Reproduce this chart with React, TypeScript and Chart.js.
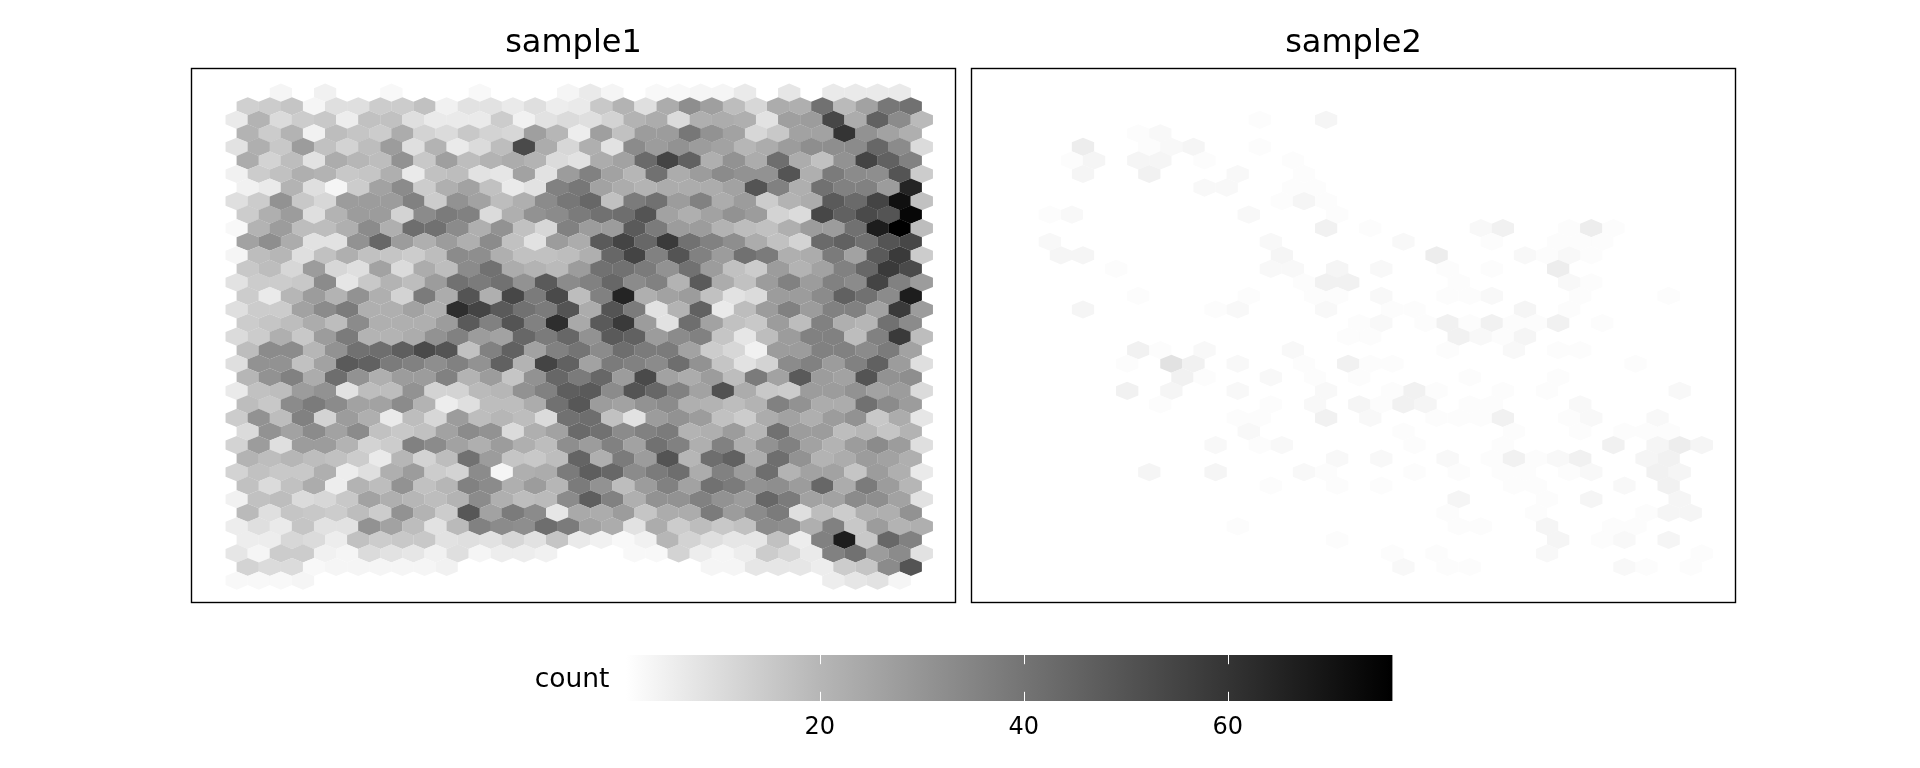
import React, { useEffect, useRef } from "react";
import { Chart, registerables, PointElement, ScatterController } from "chart.js";

const panelTitles = ["sample1", "sample2"];
const legendTitle = ["count"];
const legendTicks = [20, 40, 60];
const legendRange = [1, 76.15];

// counts per hex cell, one list per hex row from the top; 0 = no cell drawn
const sample1Rows: number[][] = [
  [0,0,3,0,4,0,0,2,0,0,0,2,0,0,0,3,6,3,0,2,2,3,3,6,0,7,0,6,6,6,6,0],
  [13,14,16,3,9,9,14,14,17,4,8,8,6,9,5,6,15,21,9,23,32,27,18,11,23,22,41,19,26,39,41],
  [6,21,10,14,15,5,17,17,9,6,6,6,14,4,8,10,9,12,21,23,10,22,23,22,8,27,28,54,23,46,33,19],
  [21,14,21,4,18,16,14,23,12,10,15,12,11,27,20,5,27,17,28,28,39,31,26,11,15,26,26,60,31,26,22],
  [8,22,15,28,17,12,18,28,9,21,6,10,18,53,23,11,22,8,33,28,31,28,26,20,23,28,32,32,33,44,33,10],
  [23,12,18,8,23,20,18,31,15,27,18,21,23,21,10,8,23,26,43,55,46,22,31,23,42,23,17,31,55,46,36],
  [4,14,17,22,21,15,16,22,6,17,18,8,7,26,8,28,36,26,20,41,23,28,33,31,31,50,22,38,33,32,50,14],
  [4,6,21,9,3,14,26,33,14,22,26,17,6,8,36,39,26,23,21,23,23,23,26,50,36,22,41,36,36,28,65],
  [9,14,31,15,11,28,28,28,36,14,31,26,18,22,33,39,44,17,38,41,28,36,23,28,14,21,23,48,43,55,71,17],
  [14,22,28,9,21,28,28,12,33,38,36,10,22,31,33,38,41,42,50,26,22,26,31,28,12,10,54,46,53,50,74],
  [2,21,28,18,18,22,33,22,42,41,33,22,31,17,11,36,28,28,48,38,28,28,21,18,17,22,28,28,41,67,76,18],
  [26,32,23,8,8,31,44,28,22,28,22,33,17,8,28,23,48,55,44,58,41,36,32,23,17,12,43,46,41,50,54],
  [3,18,20,9,17,22,17,16,14,18,33,32,22,17,17,18,22,44,55,36,50,36,28,41,38,22,23,38,26,48,58,14],
  [15,18,11,28,11,9,26,10,23,18,33,41,23,21,19,28,41,41,38,31,41,28,17,14,28,21,26,36,44,58,53],
  [8,14,14,15,33,7,15,21,18,28,41,38,41,31,48,33,36,44,33,36,21,48,23,17,28,36,28,36,33,55,36,28],
  [14,6,20,28,21,31,22,12,38,23,50,22,54,38,53,18,36,65,22,26,28,17,8,10,28,28,33,46,41,33,67],
  [9,14,14,26,33,38,22,22,26,22,62,55,48,41,38,50,23,50,38,8,21,46,6,18,28,36,28,36,36,26,58,28],
  [14,16,18,23,18,33,22,22,22,28,48,36,50,36,62,24,48,58,28,8,42,26,17,15,28,18,36,22,20,41,33],
  [10,14,22,15,28,38,21,21,23,31,36,28,26,44,38,44,31,48,46,28,33,36,16,7,18,28,36,36,18,36,58,18],
  [18,33,33,20,31,41,42,47,53,50,17,36,46,26,36,40,33,42,38,38,26,14,11,4,28,28,36,36,33,38,26],
  [9,31,31,17,26,48,46,38,36,32,36,31,46,21,55,46,26,38,36,33,42,31,16,8,12,33,36,28,36,46,28,9],
  [20,31,36,23,42,31,22,28,28,36,21,28,16,31,44,38,44,28,53,26,23,28,18,38,26,48,28,26,50,31,32],
  [6,17,18,28,31,8,18,18,31,12,12,19,20,31,36,47,48,33,50,44,36,26,51,23,15,14,28,28,31,26,28,10],
  [18,15,33,38,33,26,26,33,21,5,9,18,18,23,41,49,28,26,31,33,22,21,18,21,36,31,23,23,41,33,28],
  [14,31,18,36,12,28,22,6,18,11,28,18,20,18,10,41,42,17,8,28,31,28,17,14,23,26,22,28,31,15,23,7],
  [10,31,26,33,26,33,17,15,17,26,33,31,10,22,26,43,41,33,36,38,21,22,28,20,41,28,28,18,20,16,21],
  [12,28,9,28,28,21,12,14,36,33,26,22,28,22,18,32,28,36,26,41,36,22,36,22,31,36,26,21,28,33,28,9],
  [21,18,20,18,17,14,6,20,12,18,41,28,16,15,18,45,22,38,28,50,20,42,46,23,42,31,21,23,28,26,22],
  [12,17,15,15,22,5,9,22,28,14,12,33,3,22,23,38,47,44,33,38,42,23,36,28,42,21,26,26,16,28,22,6],
  [17,10,17,23,5,21,18,31,17,20,36,33,22,28,20,38,31,18,28,36,26,41,38,31,32,28,44,23,38,28,20],
  [4,17,18,10,11,15,26,22,20,18,21,33,22,18,19,33,47,36,22,31,31,36,31,28,44,38,26,26,33,32,26,8],
  [19,9,16,15,14,18,14,31,21,14,49,26,38,33,7,24,23,28,16,23,23,38,28,33,38,9,18,14,22,22,31],
  [5,9,6,16,8,8,31,26,18,8,19,36,33,32,42,38,26,23,8,23,14,18,15,17,33,32,22,36,15,28,21,22],
  [5,5,11,10,5,17,14,15,15,8,9,8,11,8,16,6,4,2,4,20,12,9,7,7,17,5,36,67,15,44,36],
  [7,3,14,14,4,3,10,8,7,4,9,3,5,5,4,0,0,0,2,2,12,5,3,5,14,11,6,36,41,28,33,8],
  [12,10,10,2,3,3,3,3,3,4,0,0,0,0,0,0,0,0,0,0,0,3,3,7,7,7,5,14,16,33,50],
  [2,2,2,3,0,0,0,0,0,0,0,0,0,0,0,0,0,0,0,0,0,0,0,0,0,0,0,5,7,8,3,0],
];

// sparse: [cell index in the row, count] per hex row from the top
const sample2Rows: [number, number][][] = [
  [],
  [],
  [[11,1],[14,3]],
  [[5,1],[6,2]],
  [[3,5],[6,1],[7,2],[8,3],[11,1]],
  [[2,1],[3,3],[5,3],[6,3],[8,1],[12,1]],
  [[3,3],[6,4],[10,2],[13,1]],
  [[8,2],[9,2],[12,1],[13,1]],
  [[12,1],[13,3],[14,1]],
  [[1,1],[2,2],[10,2],[14,1]],
  [[14,4],[16,1],[21,2],[22,4],[25,1],[26,5],[27,1]],
  [[1,2],[11,2],[17,2],[21,1],[24,1],[25,1],[26,1]],
  [[2,3],[3,3],[12,3],[19,5],[23,2],[24,1],[25,2],[26,1]],
  [[4,1],[11,2],[12,2],[14,3],[16,2],[19,1],[21,1],[24,5]],
  [[13,1],[14,4],[15,4],[20,1],[25,2],[26,1]],
  [[5,1],[10,1],[13,1],[14,1],[16,2],[19,1],[20,1],[21,2],[25,1],[29,1]],
  [[3,3],[9,1],[10,2],[14,2],[17,1],[18,1],[23,3],[25,1]],
  [[15,1],[16,2],[18,1],[19,4],[20,1],[21,4],[22,1],[23,1],[24,4],[26,1]],
  [[15,1],[16,1],[20,4],[21,2],[22,1],[23,3]],
  [[5,4],[6,1],[8,2],[12,2],[19,1],[22,2],[24,1],[25,1]],
  [[5,1],[7,8],[8,4],[10,2],[13,1],[15,4],[16,1],[17,1],[28,1]],
  [[7,4],[8,1],[11,2],[13,1],[15,1],[20,1],[24,1]],
  [[5,4],[7,3],[10,2],[14,2],[17,1],[18,4],[19,1],[22,1],[24,1],[30,2]],
  [[6,1],[11,1],[13,2],[15,3],[16,1],[17,4],[18,3],[20,1],[21,1],[25,2]],
  [[10,1],[11,1],[14,4],[16,2],[19,1],[20,1],[21,1],[22,4],[25,1],[26,2],[29,2]],
  [[10,2],[17,1],[22,1],[25,1],[27,1],[28,1],[29,1]],
  [[9,2],[11,1],[12,2],[18,1],[22,1],[27,4],[29,3],[30,5],[31,3]],
  [[14,2],[16,2],[19,2],[21,1],[22,4],[23,1],[24,2],[25,4],[28,3],[29,4]],
  [[6,3],[9,3],[13,2],[14,1],[18,1],[20,1],[22,1],[23,1],[25,1],[26,2],[29,4],[30,3]],
  [[11,1],[14,1],[16,1],[22,1],[23,1],[27,2],[29,4]],
  [[20,3],[24,1],[26,3],[30,3]],
  [[19,1],[23,1],[28,1],[29,3],[30,3]],
  [[10,1],[20,1],[21,1],[24,3],[27,1],[28,1]],
  [[14,1],[24,3],[26,1],[27,2],[29,3]],
  [[17,1],[19,1],[24,2],[31,1]],
  [[17,2],[19,1],[20,1],[27,2],[28,1],[30,1]],
  [],
];

const grayStops: [number, number][] = [[1, 252], [20, 182], [40, 116], [60, 52], [76, 0]];

function grayFor(v: number): string {
  let g = 0;
  for (let i = 0; i < grayStops.length - 1; i++) {
    const [a, ga] = grayStops[i];
    const [b, gb] = grayStops[i + 1];
    if (v <= b || i === grayStops.length - 2) {
      g = ga + ((Math.min(v, b) - a) / (b - a)) * (gb - ga);
      break;
    }
  }
  const c = Math.round(g);
  return `rgb(${c},${c},${c})`;
}

const HALF_W = 11.15;
const HALF_H = 9.1;

class HexPoint extends PointElement {
  static id = "hexPoint";
  draw(ctx: CanvasRenderingContext2D) {
    const { x, y, options } = this as any;
    ctx.save();
    ctx.fillStyle = options.backgroundColor;
    ctx.beginPath();
    ctx.moveTo(x, y - HALF_H);
    ctx.lineTo(x + HALF_W, y - HALF_H / 2);
    ctx.lineTo(x + HALF_W, y + HALF_H / 2);
    ctx.lineTo(x, y + HALF_H);
    ctx.lineTo(x - HALF_W, y + HALF_H / 2);
    ctx.lineTo(x - HALF_W, y - HALF_H / 2);
    ctx.closePath();
    ctx.fill();
    ctx.restore();
  }
}

class HexbinController extends ScatterController {
  static id = "hexbin";
  static defaults = { ...(ScatterController as any).defaults, dataElementType: "hexPoint" };
  static overrides = (ScatterController as any).overrides;
}

Chart.register(...registerables, HexPoint as any, HexbinController as any);

const FONT = "'DejaVu Sans'";

const framePlugin = {
  id: "panelFrame",
  afterDatasetsDraw(chart: any) {
    const { ctx, chartArea: a } = chart;
    ctx.save();
    ctx.strokeStyle = "#000";
    ctx.lineWidth = 1.4;
    ctx.strokeRect(a.left, a.top, a.right - a.left, a.bottom - a.top);
    ctx.restore();
  },
};

const legendTickPlugin = {
  id: "legendTicks",
  afterDatasetsDraw(chart: any) {
    const { ctx, chartArea: a, scales } = chart;
    const len = (a.bottom - a.top) / 5;
    ctx.save();
    ctx.strokeStyle = "#fff";
    ctx.lineWidth = 1;
    for (const v of legendTicks) {
      const x = Math.round(scales.x.getPixelForValue(v)) + 0.5;
      ctx.beginPath();
      ctx.moveTo(x, a.top);
      ctx.lineTo(x, a.top + len);
      ctx.moveTo(x, a.bottom - len);
      ctx.lineTo(x, a.bottom);
      ctx.stroke();
    }
    ctx.restore();
  },
};

function pointsFromFull(rows: number[][]) {
  const pts: { x: number; y: number; v: number }[] = [];
  rows.forEach((row, r) =>
    row.forEach((v, k) => {
      if (v > 0) pts.push({ x: 2 * k + (r % 2), y: r, v });
    })
  );
  return pts;
}

function pointsFromSparse(rows: [number, number][][]) {
  const pts: { x: number; y: number; v: number }[] = [];
  rows.forEach((row, r) =>
    row.forEach(([k, v]) => pts.push({ x: 2 * k + (r % 2), y: r, v }))
  );
  return pts;
}

function panelConfig(title: string, points: any[]) {
  return {
    type: "hexbin",
    data: {
      datasets: [
        {
          label: title,
          data: points,
          backgroundColor: (c: any) => grayFor(c.raw ? c.raw.v : 1),
        },
      ],
    },
    options: {
      animation: false,
      responsive: false,
      events: [],
      layout: { padding: { left: 41.5, right: 14.5, top: 0, bottom: 27.5 } },
      scales: {
        x: { type: "linear", display: false, min: -4.09, max: 65.05 },
        y: { type: "linear", display: false, min: -1.786, max: 37.62, reverse: true },
      },
      plugins: {
        legend: { display: false },
        tooltip: { enabled: false },
        title: {
          display: true,
          text: title,
          color: "#000",
          font: { family: FONT, size: 32, weight: "normal", lineHeight: 1.2 },
          padding: { top: 24.8, bottom: 5.3 },
        },
      },
    },
    plugins: [framePlugin],
  };
}

function legendConfig() {
  return {
    type: "bar",
    data: {
      labels: legendTitle,
      datasets: [
        {
          label: legendTitle[0],
          data: [legendRange],
          barPercentage: 1,
          categoryPercentage: 1,
          borderWidth: 0,
          backgroundColor: (c: any) => {
            const { chart } = c;
            const a = chart.chartArea;
            if (!a) return "#888";
            const g = chart.ctx.createLinearGradient(a.left, 0, a.right, 0);
            const [lo, hi] = legendRange;
            g.addColorStop(0, "rgb(255,255,255)");
            grayStops.slice(1).forEach(([v]) => {
              g.addColorStop(Math.min(1, (v - lo) / (hi - lo)), grayFor(v));
            });
            g.addColorStop(1, "rgb(0,0,0)");
            return g;
          },
        },
      ],
    },
    options: {
      indexAxis: "y",
      animation: false,
      responsive: false,
      events: [],
      layout: { padding: { left: 0, right: 7.5, top: 15, bottom: 0 } },
      scales: {
        x: {
          type: "linear",
          min: legendRange[0],
          max: legendRange[1],
          grid: { display: false },
          border: { display: false },
          afterBuildTicks: (axis: any) => {
            axis.ticks = legendTicks.map((value) => ({ value }));
          },
          afterFit: (s: any) => {
            s.height = 67;
            s.paddingLeft = 0;
            s.paddingRight = 0;
          },
          ticks: {
            color: "#000",
            padding: 4.5,
            font: { family: FONT, size: 24 },
            maxRotation: 0,
          },
        },
        y: {
          type: "category",
          grid: { display: false },
          border: { display: false },
          afterFit: (s: any) => {
            s.width = 126;
            s.paddingTop = 0;
            s.paddingBottom = 0;
          },
          ticks: {
            color: "#000",
            padding: 8.5,
            labelOffset: 2.4,
            font: { family: FONT, size: 26.5 },
          },
        },
      },
      plugins: { legend: { display: false }, tooltip: { enabled: false } },
    },
    plugins: [legendTickPlugin],
  };
}

function ChartCanvas({ config, style, width, height }: any) {
  const ref = useRef<HTMLCanvasElement>(null);
  useEffect(() => {
    const chart = new Chart(ref.current as HTMLCanvasElement, config() as any);
    return () => chart.destroy();
  }, []);
  return <canvas ref={ref} width={width} height={height} style={{ position: "absolute", ...style }} />;
}

export default function App() {
  return (
    <div style={{ position: "absolute", left: 0, top: 0, width: 1920, height: 768, background: "#fff", overflow: "hidden" }}>
      <ChartCanvas
        width={820}
        height={630}
        style={{ left: 150, top: 0 }}
        config={() => panelConfig(panelTitles[0], pointsFromFull(sample1Rows))}
      />
      <ChartCanvas
        width={820}
        height={630}
        style={{ left: 930, top: 0 }}
        config={() => panelConfig(panelTitles[1], pointsFromSparse(sample2Rows))}
      />
      <ChartCanvas width={900} height={128} style={{ left: 500, top: 640 }} config={legendConfig} />
    </div>
  );
}
